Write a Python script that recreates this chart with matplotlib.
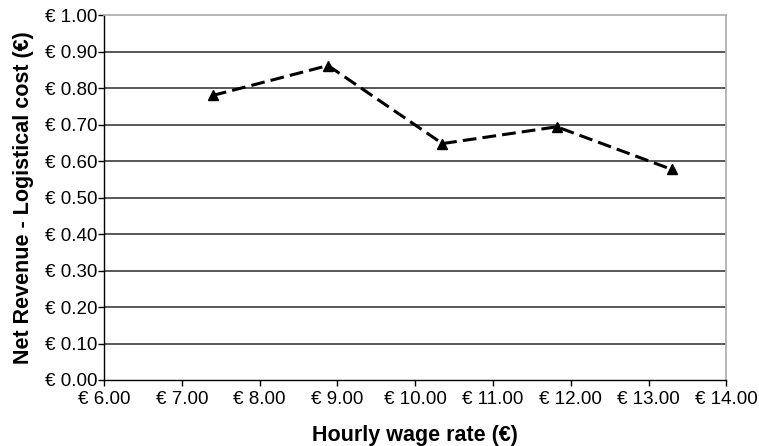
import matplotlib.pyplot as plt

plt.rcParams['font.family'] = ['Liberation Sans', 'DejaVu Sans']

# Values
wage = [7.40, 8.88, 10.35, 11.82, 13.30]
net_value = [0.780, 0.862, 0.648, 0.694, 0.577]

x_ticks = [6, 7, 8, 9, 10, 11, 12, 13, 14]
y_ticks = [0.0, 0.1, 0.2, 0.3, 0.4, 0.5, 0.6, 0.7, 0.8, 0.9, 1.0]

fig = plt.figure(figsize=(7.59, 4.46), dpi=100)
ax = fig.add_axes([0.137, 0.148, 0.820, 0.818])

for yv in y_ticks[1:-1]:
    ax.axhline(yv, color='#2a2a2a', lw=1.1, zorder=1)

ax.plot(wage, net_value, color='black', lw=2.2, linestyle=(0, (4.5, 2)),
        marker='^', markersize=6.5, zorder=3)

ax.set_xlim(6, 14)
ax.set_ylim(0, 1)
ax.set_xticks(x_ticks)
ax.set_xticklabels(['€ %.2f' % v for v in x_ticks])
ax.set_yticks(y_ticks)
ax.set_yticklabels(['€ %.2f' % v for v in y_ticks])
ax.tick_params(axis='both', labelsize=13.5, length=4, width=1, color='black',
               direction='out')
ax.tick_params(axis='x', pad=4)
ax.tick_params(axis='y', pad=0.5)

for side in ['top', 'right']:
    ax.spines[side].set_color('#b0b0b0')
    ax.spines[side].set_linewidth(1.3)
for side in ['left', 'bottom']:
    ax.spines[side].set_color('black')
    ax.spines[side].set_linewidth(1.0)

ax.set_xlabel('Hourly wage rate (€)', fontsize=15.5, fontweight='bold', labelpad=12)
ax.set_ylabel('Net Revenue - Logistical cost (€)', fontsize=15.5,
              fontweight='bold', labelpad=8)

fig.savefig('out.png', dpi=100)
